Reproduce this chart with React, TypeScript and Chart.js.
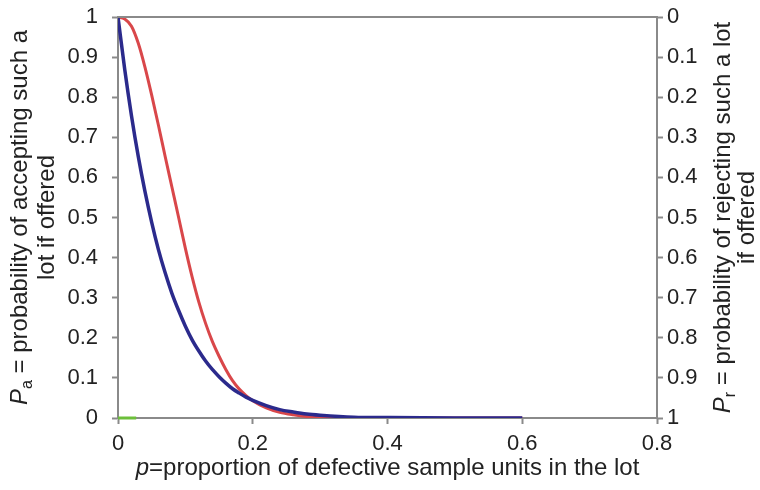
import React, { useEffect, useRef } from 'react';
import { Chart, registerables } from 'chart.js';

Chart.register(...registerables);

// proportion defective p
const pValues = [
  0, 0.01, 0.02, 0.03, 0.04, 0.05, 0.06, 0.07, 0.08, 0.09, 0.1, 0.11, 0.12, 0.13, 0.14, 0.15,
  0.16, 0.17, 0.18, 0.19, 0.2, 0.22, 0.24, 0.26, 0.28, 0.3, 0.35, 0.4, 0.5, 0.6,
];
// red OC curve
const redPa = [
  1, 0.995, 0.977, 0.935, 0.875, 0.805, 0.73, 0.652, 0.576, 0.5, 0.423, 0.352, 0.289, 0.236,
  0.191, 0.154, 0.121, 0.093, 0.072, 0.056, 0.043, 0.025, 0.014, 0.008, 0.004, 0.002, 0.0005, 0,
  0, 0,
];
// blue OC curve
const bluePa = [
  1, 0.869, 0.754, 0.653, 0.565, 0.488, 0.42, 0.362, 0.311, 0.268, 0.229, 0.195, 0.167, 0.142,
  0.121, 0.103, 0.087, 0.073, 0.062, 0.052, 0.044, 0.031, 0.021, 0.015, 0.01, 0.007, 0.002, 0.001,
  0, 0,
];
// short green segment along the axis
const greenP = [0, 0.027];
const greenPa = [0, 0];

const xTickValues = [0, 0.2, 0.4, 0.6, 0.8];

const FONT = '"Liberation Sans", Arial, sans-serif';
const AXIS_COLOR = '#8a8a8a';
const TEXT_COLOR = '#222222';
const TICK_SIZE = 22;
const TITLE_SIZE = 24;

type Part = { t: string; italic?: boolean; sub?: boolean };

const xTitle: Part[] = [
  { t: 'p', italic: true },
  { t: '=proportion of defective sample units in the lot' },
];
const leftTitle: Part[][] = [
  [{ t: 'P', italic: true }, { t: 'a', sub: true }, { t: ' = probability of accepting such a' }],
  [{ t: 'lot if offered' }],
];
const rightTitle: Part[][] = [
  [{ t: 'P', italic: true }, { t: 'r', sub: true }, { t: ' = probability of rejecting such a lot' }],
  [{ t: 'if offered' }],
];

function partFont(p: Part) {
  const size = p.sub ? Math.round(TITLE_SIZE * 0.65) : TITLE_SIZE;
  return `${p.italic ? 'italic ' : ''}${size}px ${FONT}`;
}

function drawParts(ctx: CanvasRenderingContext2D, parts: Part[], cx: number, cy: number) {
  let total = 0;
  const widths = parts.map((p) => {
    ctx.font = partFont(p);
    const w = ctx.measureText(p.t).width;
    total += w;
    return w;
  });
  let x = cx - total / 2;
  ctx.textBaseline = 'middle';
  ctx.textAlign = 'left';
  parts.forEach((p, i) => {
    ctx.font = partFont(p);
    ctx.fillText(p.t, x, p.sub ? cy + TITLE_SIZE * 0.3 : cy);
    x += widths[i];
  });
}

const titlesPlugin = {
  id: 'customTitles',
  afterDraw(chart: any) {
    const ctx: CanvasRenderingContext2D = chart.ctx;
    const a = chart.chartArea;
    ctx.save();
    // top frame line
    ctx.strokeStyle = AXIS_COLOR;
    ctx.lineWidth = 2;
    ctx.beginPath();
    ctx.moveTo(a.left - 1, a.top);
    ctx.lineTo(a.right + 1, a.top);
    ctx.stroke();

    ctx.fillStyle = TEXT_COLOR;
    const midY = (a.top + a.bottom) / 2;
    drawParts(ctx, xTitle, (a.left + a.right) / 2, 468);

    const leftX = [20, 47];
    leftTitle.forEach((line, i) => {
      ctx.save();
      ctx.translate(leftX[i], midY);
      ctx.rotate(-Math.PI / 2);
      drawParts(ctx, line, 0, 0);
      ctx.restore();
    });
    const rightX = [723, 747];
    rightTitle.forEach((line, i) => {
      ctx.save();
      ctx.translate(rightX[i], midY);
      ctx.rotate(-Math.PI / 2);
      drawParts(ctx, line, 0, 0);
      ctx.restore();
    });
    ctx.restore();
  },
};

const fmt = (v: number | string) => String(Number(Number(v).toFixed(2)));

export default function App() {
  const ref = useRef<HTMLCanvasElement | null>(null);

  useEffect(() => {
    if (!ref.current) return;
    const toPts = (xs: number[], ys: number[]) => xs.map((x, i) => ({ x, y: ys[i] }));
    const tickFont = { family: FONT, size: TICK_SIZE };
    const grid = {
      display: true,
      drawOnChartArea: false,
      drawTicks: true,
      tickLength: 6,
      tickWidth: 2,
      color: AXIS_COLOR,
    };
    const border = { display: true, color: AXIS_COLOR, width: 2 };
    const fitY = (w: number) => (s: any) => {
      s.width = w;
      s.paddingTop = 0;
      s.paddingBottom = 0;
    };

    const chart = new Chart(ref.current, {
      type: 'line',
      data: {
        datasets: [
          {
            label: 'blue',
            data: toPts(pValues, bluePa),
            borderColor: '#2b2a8c',
            borderWidth: 3.5,
            pointRadius: 0,
            cubicInterpolationMode: 'monotone',
            order: 1,
          },
          {
            label: 'red',
            data: toPts(pValues, redPa),
            borderColor: '#d9474a',
            borderWidth: 3,
            pointRadius: 0,
            cubicInterpolationMode: 'monotone',
            order: 2,
          },
          {
            label: 'green',
            data: toPts(greenP, greenPa),
            borderColor: '#6cbf3a',
            borderWidth: 3,
            pointRadius: 0,
            clip: false,
            order: 3,
          },
        ],
      },
      options: {
        responsive: false,
        animation: false,
        events: [],
        layout: { padding: { top: 17, left: 0, right: 0, bottom: 0 } },
        plugins: { legend: { display: false }, tooltip: { enabled: false } },
        scales: {
          x: {
            type: 'linear',
            min: 0,
            max: 0.8,
            afterBuildTicks: (s: any) => {
              s.ticks = xTickValues.map((v) => ({ value: v }));
            },
            afterFit: (s: any) => {
              s.height = 72;
              s.paddingLeft = 0;
              s.paddingRight = 0;
            },
            ticks: { font: tickFont, color: TEXT_COLOR, padding: 7, callback: fmt, maxRotation: 0 },
            grid,
            border,
          },
          y: {
            position: 'left',
            min: 0,
            max: 1,
            afterFit: fitY(118),
            ticks: { stepSize: 0.1, font: tickFont, color: TEXT_COLOR, padding: 14, callback: fmt },
            grid,
            border,
          },
          y1: {
            position: 'right',
            min: 0,
            max: 1,
            reverse: true,
            afterFit: fitY(103),
            ticks: { stepSize: 0.1, font: tickFont, color: TEXT_COLOR, padding: 4, callback: fmt },
            grid,
            border,
          },
        },
      },
      plugins: [titlesPlugin],
    } as any);
    return () => chart.destroy();
  }, []);

  return (
    <div style={{ position: 'absolute', left: 0, top: 0, width: 760, height: 490, background: '#fff' }}>
      <canvas ref={ref} width={760} height={490} style={{ display: 'block' }} />
    </div>
  );
}
